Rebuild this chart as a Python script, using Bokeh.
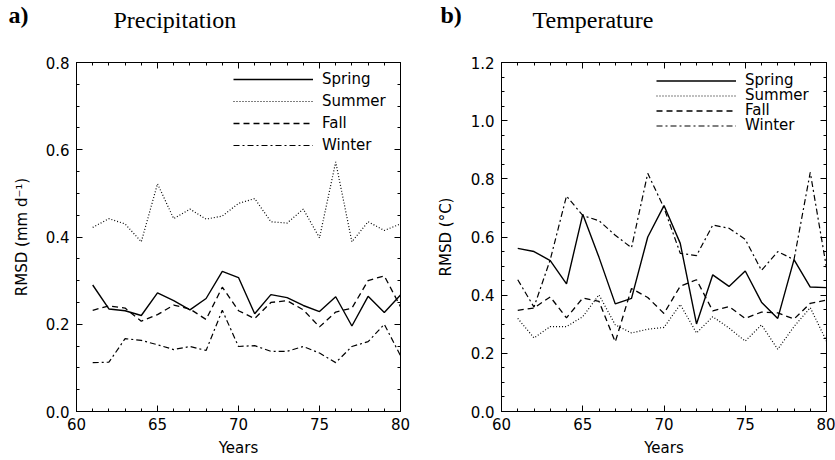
import numpy as np
from bokeh.plotting import figure
from bokeh.layouts import row
from bokeh.models import (Range1d, LinearAxis, FixedTicker, PrintfTickFormatter,
                          CustomJSTickFormatter, Legend, LegendItem, Label)
from bokeh.embed import file_html
from bokeh.resources import INLINE

years = list(range(61, 81))

# Precipitation RMSD (mm/d)
pr_spring = [0.290, 0.235, 0.231, 0.220, 0.272, 0.254, 0.233, 0.259, 0.321, 0.307,
             0.224, 0.268, 0.261, 0.243, 0.229, 0.263, 0.196, 0.264, 0.227, 0.267]
pr_summer = [0.422, 0.442, 0.430, 0.389, 0.522, 0.442, 0.464, 0.441, 0.448, 0.477,
             0.488, 0.435, 0.432, 0.464, 0.398, 0.572, 0.389, 0.435, 0.415, 0.430]
pr_fall = [0.232, 0.242, 0.237, 0.207, 0.222, 0.244, 0.235, 0.211, 0.285, 0.231,
           0.213, 0.250, 0.254, 0.233, 0.194, 0.228, 0.237, 0.300, 0.311, 0.240]
pr_winter = [0.112, 0.113, 0.167, 0.163, 0.153, 0.142, 0.149, 0.140, 0.232, 0.149,
             0.151, 0.138, 0.138, 0.149, 0.134, 0.112, 0.149, 0.160, 0.200, 0.128]

# Temperature RMSD (°C)
tm_spring = [0.561, 0.550, 0.519, 0.439, 0.678, 0.530, 0.370, 0.389, 0.600, 0.708,
             0.578, 0.301, 0.470, 0.430, 0.483, 0.376, 0.320, 0.522, 0.428, 0.426]
tm_summer = [0.320, 0.253, 0.292, 0.292, 0.326, 0.401, 0.298, 0.270, 0.283, 0.289,
             0.368, 0.270, 0.326, 0.287, 0.242, 0.298, 0.214, 0.292, 0.357, 0.242]
tm_fall = [0.348, 0.356, 0.394, 0.322, 0.390, 0.379, 0.239, 0.423, 0.392, 0.337,
           0.431, 0.453, 0.346, 0.361, 0.320, 0.342, 0.339, 0.318, 0.372, 0.383]
tm_winter = [0.453, 0.359, 0.522, 0.741, 0.674, 0.656, 0.606, 0.563, 0.819, 0.700,
             0.544, 0.536, 0.641, 0.630, 0.592, 0.485, 0.550, 0.522, 0.822, 0.494]

season_names = ["Spring", "Summer", "Fall", "Winter"]
x_major = [60, 65, 70, 75, 80]
pr_major = [0.0, 0.2, 0.4, 0.6, 0.8]
tm_major = [0.0, 0.2, 0.4, 0.6, 0.8, 1.0, 1.2]

SANS = "DejaVu Sans"
SERIF = "Liberation Serif"
styles = [
    dict(line_dash="solid", line_width=1.4),
    dict(line_dash="1 2", line_width=1.2),
    dict(line_dash="6 4", line_width=1.3),
    dict(line_dash="6 3 2 3", line_width=1.2),
]

H = 460
TOP, BOTTOM = 62, 49


def make_panel(width, left_border, right_border, ymax, ymajor, ylabel, ylabel_standoff,
               series, letter, title, letter_x, title_x, leg_x, leg_bottoms, leg_row):
    p = figure(width=width, height=H, output_backend="svg", toolbar_location=None,
               x_range=Range1d(60, 80), y_range=Range1d(0, ymax),
               min_border_left=left_border, min_border_right=right_border,
               min_border_top=TOP, min_border_bottom=BOTTOM,
               background_fill_color="white", border_fill_color="white")
    p.grid.visible = False
    p.outline_line_color = "black"
    p.outline_line_width = 1

    p.add_layout(LinearAxis(), "above")
    p.add_layout(LinearAxis(), "right")

    xminor = list(np.arange(60, 81, 1))
    yminor = list(np.round(np.arange(0, ymax + 0.001, 0.05), 3))
    for ax in p.xaxis:
        ax.ticker = FixedTicker(ticks=x_major, minor_ticks=xminor)
    for ax in p.yaxis:
        ax.ticker = FixedTicker(ticks=ymajor, minor_ticks=yminor)
    for ax in p.axis:
        ax.major_tick_in = 6
        ax.major_tick_out = 0
        ax.minor_tick_in = 3
        ax.minor_tick_out = 0
        ax.major_tick_line_color = "black"
        ax.minor_tick_line_color = "black"
        ax.axis_line_color = "black"
        ax.major_label_text_font = SANS
        ax.major_label_text_font_size = "15px"
        ax.major_label_text_color = "black"
        ax.axis_label_text_font = SANS
        ax.axis_label_text_font_size = "15px"
        ax.axis_label_text_font_style = "normal"
        ax.axis_label_text_color = "black"
    p.above[0].formatter = CustomJSTickFormatter(code="return ''")
    p.right[0].formatter = CustomJSTickFormatter(code="return ''")

    xa = p.below[0]
    xa.axis_label = "Years"
    xa.major_label_standoff = 6
    xa.axis_label_standoff = 6
    ya = p.left[0]
    ya.axis_label = ylabel
    ya.formatter = PrintfTickFormatter(format="%.1f")
    ya.major_label_standoff = 7
    ya.axis_label_standoff = ylabel_standoff

    for name, vals, st, yb in zip(season_names, series, styles, leg_bottoms):
        r = p.line(years, vals, line_color="black", **st)
        leg = Legend(items=[LegendItem(label=name, renderers=[r])], location=(leg_x, yb),
                     glyph_width=80, glyph_height=leg_row, label_height=leg_row,
                     label_standoff=9, spacing=0, padding=0, margin=0,
                     border_line_color=None, background_fill_alpha=0,
                     label_text_font=SANS, label_text_font_size="15px",
                     label_text_color="black")
        p.add_layout(leg, "center")

    # panel heading: normal-weight title and bold letter on one line above the frame
    t_main = Label(text=title, x=title_x, y=43, x_units="screen", y_units="screen",
                   text_font=SERIF, text_font_size="24px", text_font_style="normal",
                   text_color="black", text_baseline="alphabetic", text_align="left")
    t_letter = Label(text=letter, x=letter_x, y=22, x_units="screen", y_units="screen",
                     text_font=SERIF, text_font_size="24px", text_font_style="bold",
                     text_color="black", text_baseline="alphabetic", text_align="left")
    p.add_layout(t_main, "above")
    p.add_layout(t_letter, "above")
    return p


pa = make_panel(420, 76, 20, 0.8, pr_major, "RMSD (mm d\u207b\u00b9)", 12,
                [pr_spring, pr_summer, pr_fall, pr_winter],
                "a)", "Precipitation", -68, 37, 157, [321, 299, 277, 255], 22)
pb = make_panel(415, 81, 9, 1.2, tm_major, "RMSD (\u00b0C)", 13,
                [tm_spring, tm_summer, tm_fall, tm_winter],
                "b)", "Temperature", -61, 31, 155, [322, 307, 292, 277], 15)

layout = row(pa, pb)
open("out.html", "w").write(file_html(layout, INLINE))
